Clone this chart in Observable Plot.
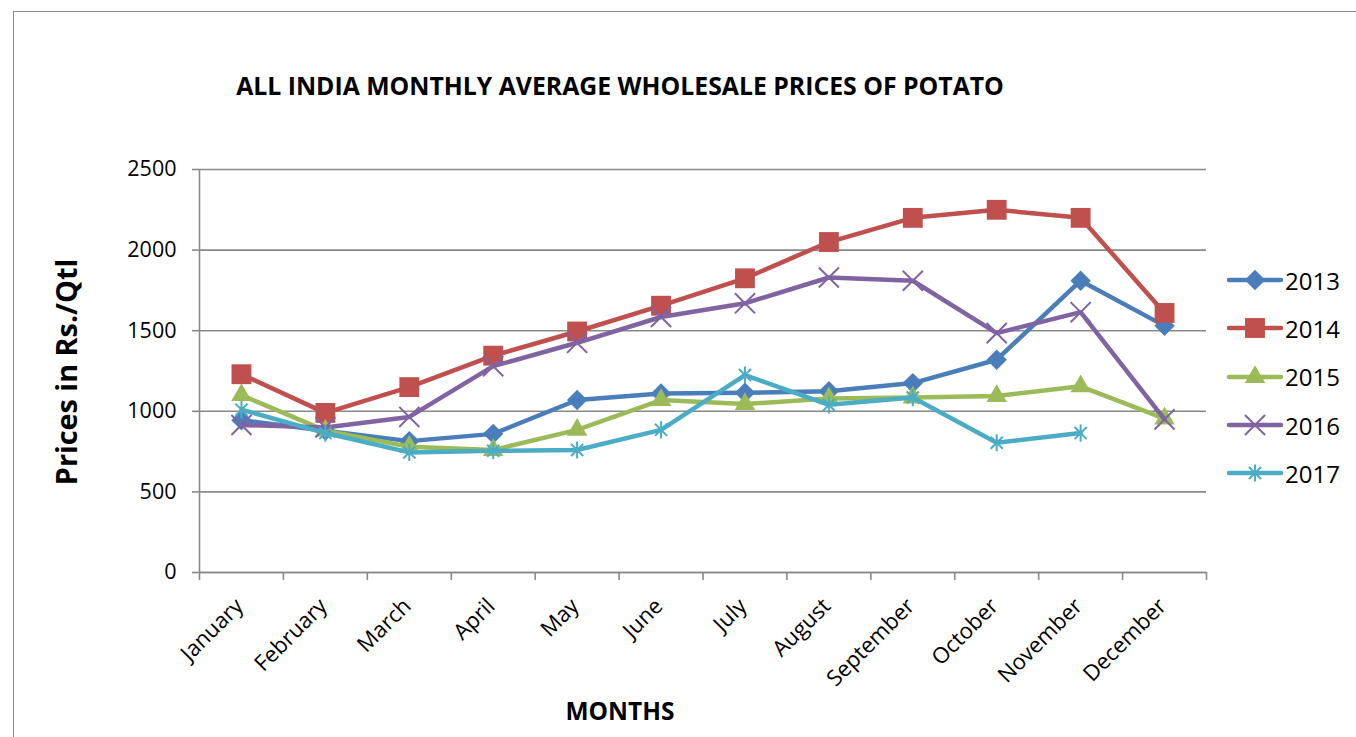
<!DOCTYPE html>
<html>
<head>
<meta charset="utf-8">
<script src="https://cdn.jsdelivr.net/npm/d3@7"></script>
<script src="https://cdn.jsdelivr.net/npm/@observablehq/plot@0.6"></script>
<style>
  html, body { margin: 0; padding: 0; background: #fff; }
  #wrap { position: relative; width: 1356px; height: 737px; overflow: hidden; font-family: "Open Sans", "Liberation Sans", Arial, sans-serif; }
  #frame { position: absolute; left: 13px; top: 11px; width: 1400px; height: 800px; border-left: 1.5px solid #8a8a8a; border-top: 1.5px solid #8a8a8a; }
  #chart { position: absolute; left: 0; top: 0; }
  .title { position: absolute; left: 620px; top: 85px; transform: translate(-50%, -50%); font-weight: bold; font-size: 24.8px; white-space: nowrap; letter-spacing: 0px; }
  .ylab { position: absolute; left: 65px; top: 372px; transform: translate(-50%, -50%) rotate(-90deg); font-weight: bold; font-size: 28.8px; white-space: nowrap; }
  .xlab { position: absolute; left: 620px; top: 710px; transform: translate(-50%, -50%); font-weight: bold; font-size: 24.5px; white-space: nowrap; letter-spacing: 0px; }
  #legend { position: absolute; left: 1226px; top: 256px; }
  .item { display: flex; align-items: center; height: 48.3px; }
  .item span { font-size: 24px; margin-left: 1px; }
</style>
</head>
<body>
<div id="wrap">
  <div id="frame"></div>
  <div id="chart"></div>
  <div class="title">ALL INDIA MONTHLY AVERAGE WHOLESALE PRICES OF POTATO</div>
  <div class="ylab">Prices in Rs./Qtl</div>
  <div class="xlab">MONTHS</div>
  <div id="legend"></div>
</div>
<script>
const months = ["January","February","March","April","May","June","July","August","September","October","November","December"];
const years = ["2013","2014","2015","2016","2017"];
const p2013 = [945, 880, 815, 860, 1070, 1110, 1115, 1125, 1175, 1320, 1810, 1530];
const p2014 = [1230, 990, 1150, 1345, 1495, 1655, 1825, 2050, 2200, 2250, 2200, 1610];
const p2015 = [1100, 880, 780, 760, 885, 1070, 1045, 1080, 1085, 1095, 1155, 955];
const p2016 = [915, 900, 965, 1280, 1425, 1585, 1670, 1830, 1810, 1485, 1615, 950];
const p2017 = [1010, 865, 745, 755, 760, 885, 1225, 1040, 1085, 805, 865, null];
const yTicks = [0, 500, 1000, 1500, 2000, 2500];
const colors = ["#4a7ebb", "#c0504d", "#9bbb59", "#8064a2", "#4bacc6"];

const starSymbol = {
  draw(context, size) {
    const r = Math.sqrt(size) * 0.55;
    const d = r * Math.SQRT1_2;
    context.moveTo(0, -r); context.lineTo(0, r);
    context.moveTo(-d, -d); context.lineTo(d, d);
    context.moveTo(-d, d); context.lineTo(d, -d);
  }
};
const styles = [
  {symbol: "diamond2", r: 9.2, filled: true},
  {symbol: "square", r: 11.2, filled: true},
  {symbol: "triangle", r: 7.6, filled: true},
  {symbol: "times", r: 9.2, filled: false},
  {symbol: starSymbol, r: 8.8, filled: false}
];

const series = [p2013, p2014, p2015, p2016, p2017];
const rows = [];
series.forEach((vals, s) => vals.forEach((v, i) => {
  if (v != null) rows.push({year: years[s], month: months[i], xi: i + 0.5, value: v});
}));

const marks = [
  Plot.gridY(yTicks, {stroke: "#898989", strokeOpacity: 1, strokeWidth: 1.6}),
  Plot.ruleX([0], {stroke: "#898989", strokeWidth: 1.6}),
  Plot.ruleY([0], {stroke: "#898989", strokeWidth: 1.6}),
  Plot.axisY({ticks: yTicks, tickSize: 7, tickPadding: 16, tickFormat: d => String(d), fontSize: 21.5, stroke: "#898989", strokeWidth: 1.6, fill: "black", label: null}),
  Plot.axisX({ticks: d3.range(0, 13), tickSize: 8, tickFormat: () => "", stroke: "#898989", strokeWidth: 1.6, label: null}),
  Plot.text(months.map((m, i) => ({m, xi: i + 0.5})), {x: "xi", y: () => 0, text: "m", rotate: -45, textAnchor: "end", dy: 30, dx: -2, fontSize: 22, fill: "black"})
];
years.forEach((yr, s) => {
  const d = rows.filter(r => r.year === yr);
  marks.push(Plot.line(d, {x: "xi", y: "value", stroke: colors[s], strokeWidth: 4.5, strokeLinejoin: "round", strokeLinecap: "round"}));
  const st = styles[s];
  marks.push(Plot.dot(d, st.filled
    ? {x: "xi", y: "value", symbol: () => st.symbol, r: st.r, fill: colors[s], stroke: "none"}
    : {x: "xi", y: "value", symbol: () => st.symbol, r: st.r, fill: "none", stroke: colors[s], strokeWidth: 2}));
});

const chart = Plot.plot({
  width: 1356,
  height: 737,
  marginLeft: 199,
  marginRight: 150,
  marginTop: 169,
  marginBottom: 165,
  x: {type: "linear", domain: [0, 12], axis: null},
  y: {domain: [0, 2500], axis: null},
  symbol: {type: "identity"},
  style: {background: "transparent", overflow: "visible", fontFamily: "Open Sans, Liberation Sans, Arial, sans-serif", color: "black"},
  marks
});
document.getElementById("chart").appendChild(chart);

// Legend
const legend = d3.select("#legend");
years.forEach((yr, s) => {
  const st = styles[s];
  const item = legend.append("div").attr("class", "item");
  const svg = item.append("svg").attr("width", 58).attr("height", 24);
  svg.append("line").attr("x1", 3).attr("x2", 55).attr("y1", 12).attr("y2", 12)
    .attr("stroke", colors[s]).attr("stroke-width", 4.5).attr("stroke-linecap", "round");
  const symType = typeof st.symbol === "string"
    ? {diamond2: d3.symbolDiamond2, square: d3.symbolSquare, triangle: d3.symbolTriangle, times: d3.symbolTimes}[st.symbol]
    : st.symbol;
  const path = d3.symbol(symType, st.r * st.r * Math.PI)();
  const p = svg.append("path").attr("d", path).attr("transform", "translate(29,12)");
  if (st.filled) p.attr("fill", colors[s]);
  else p.attr("fill", "none").attr("stroke", colors[s]).attr("stroke-width", 2);
  item.append("span").text(yr);
});
</script>
</body>
</html>
